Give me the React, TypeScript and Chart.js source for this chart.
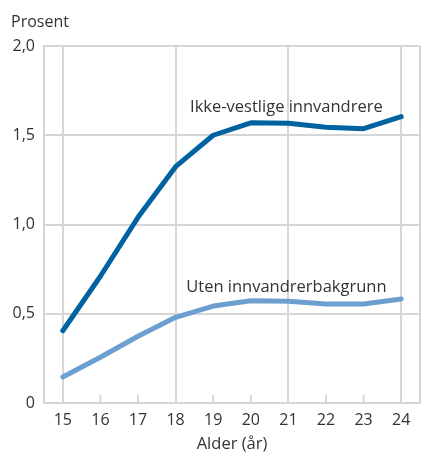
import React, { useEffect, useRef } from "react";
import { Chart, registerables } from "chart.js";

Chart.register(...registerables);

const ages = ["15", "16", "17", "18", "19", "20", "21", "22", "23", "24"];
const ikkeVestlige = [0.405, 0.71, 1.04, 1.324, 1.5, 1.57, 1.567, 1.545, 1.537, 1.604];
const utenBakgrunn = [0.146, 0.256, 0.374, 0.48, 0.543, 0.573, 0.57, 0.555, 0.555, 0.583];
const yTicks = [0, 0.5, 1.0, 1.5, 2.0];
const seriesLabels = ["Ikke-vestlige innvandrere", "Uten innvandrerbakgrunn"];
// label anchors in data space: [category index, value]
const labelAnchors: [number, number][] = [
  [6, 1.655],
  [6, 0.65],
];

const FONT = "'Open Sans', 'Noto Sans', sans-serif";
const TEXT = "#333333";
const GRID = "#d6d6d6";
const DARK = "#0062a1";
const LIGHT = "#6c9fcf";

const fmt = (v: number) => (v === 0 ? "0" : v.toFixed(1).replace(".", ","));

const extras = {
  id: "extras",
  afterDraw(chart: any) {
    const { ctx, chartArea, scales } = chart;
    const x = scales.x;
    const y = scales.y;
    ctx.save();
    // inner tick marks at non-grid categories
    ctx.strokeStyle = GRID;
    ctx.lineWidth = 2;
    ages.forEach((_, i) => {
      if (i % 3 !== 0) {
        const px = x.getPixelForTick(i);
        ctx.beginPath();
        ctx.moveTo(px, chartArea.bottom - 8);
        ctx.lineTo(px, chartArea.bottom);
        ctx.stroke();
      }
    });
    // right border
    ctx.beginPath();
    ctx.moveTo(chartArea.right, chartArea.top);
    ctx.lineTo(chartArea.right, chartArea.bottom);
    ctx.stroke();
    // texts
    ctx.fillStyle = TEXT;
    ctx.font = `16px ${FONT}`;
    ctx.textAlign = "left";
    ctx.textBaseline = "middle";
    ctx.fillText("Prosent", chartArea.left - 33, chartArea.top - 24);
    ctx.font = `16.5px ${FONT}`;
    ctx.textAlign = "center";
    seriesLabels.forEach((t, i) => {
      const [ci, v] = labelAnchors[i];
      const px = x.getPixelForValue(ci) - 2;
      const py = y.getPixelForValue(v);
      ctx.fillText(t, px, py);
    });
    ctx.restore();
  },
};

export default function App() {
  const ref = useRef<HTMLCanvasElement>(null);
  useEffect(() => {
    document.body.style.margin = "0";
    const c = new Chart(ref.current!, {
      type: "line",
      data: {
        labels: ages,
        datasets: [
          {
            label: seriesLabels[0],
            data: ikkeVestlige,
            borderColor: DARK,
            borderWidth: 5,
            pointRadius: 0,
            tension: 0,
            borderCapStyle: "round",
            borderJoinStyle: "round",
          },
          {
            label: seriesLabels[1],
            data: utenBakgrunn,
            borderColor: LIGHT,
            borderWidth: 5,
            pointRadius: 0,
            tension: 0,
            borderCapStyle: "round",
            borderJoinStyle: "round",
          },
        ],
      },
      options: {
        animation: false,
        responsive: false,
        layout: { padding: { top: 46, right: 5, left: 0, bottom: 0 } },
        plugins: { legend: { display: false }, tooltip: { enabled: false } },
        scales: {
          x: {
            offset: true,
            grid: {
              offset: false,
              drawTicks: false,
              lineWidth: 2,
              color: (ctx: any) => (ctx.index % 3 === 0 ? GRID : "rgba(0,0,0,0)"),
            },
            border: { color: GRID, width: 2 },
            ticks: { color: TEXT, font: { family: FONT, size: 16 }, padding: 8, maxRotation: 0, autoSkip: false },
            title: {
              display: true,
              text: "Alder (år)",
              color: TEXT,
              font: { family: FONT, size: 16.5 },
              padding: { top: 0, bottom: 2 },
            },
            afterFit: (s: any) => {
              s.height = 53;
            },
          },
          y: {
            min: 0,
            max: 2,
            afterBuildTicks: (s: any) => {
              s.ticks = yTicks.map((v) => ({ value: v }));
            },
            grid: { drawTicks: false, lineWidth: 2, color: GRID },
            border: { color: GRID, width: 2 },
            ticks: {
              color: TEXT,
              font: { family: FONT, size: 16 },
              padding: 9,
              callback: (v: any) => fmt(Number(v)),
            },
            afterFit: (s: any) => {
              s.width = 44;
            },
          },
        },
      },
      plugins: [extras],
    });
    return () => c.destroy();
  }, []);
  return <canvas ref={ref} width={425} height={456} style={{ display: "block" }} />;
}
